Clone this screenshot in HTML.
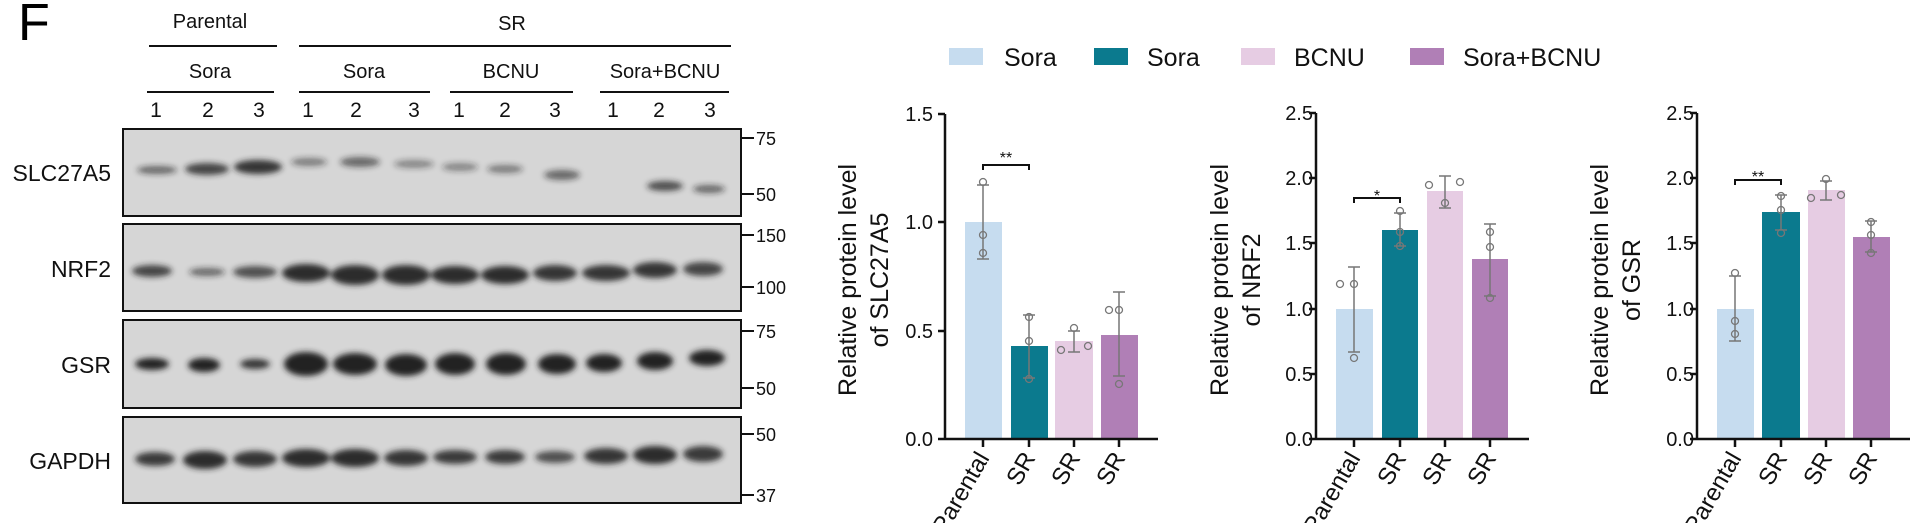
<!DOCTYPE html>
<html><head><meta charset="utf-8"><style>body{margin:0;background:#fff}svg{display:block}</style></head><body>
<svg width="1912" height="523" viewBox="0 0 1912 523" xmlns="http://www.w3.org/2000/svg" font-family="Liberation Sans, sans-serif">
<defs><filter id="b" x="-20%" y="-50%" width="140%" height="200%"><feGaussianBlur stdDeviation="3"/></filter></defs>
<rect width="1912" height="523" fill="#fff"/>
<text x="18" y="40" font-size="52">F</text>
<g font-size="20" text-anchor="middle" fill="#111">
<text x="210" y="28">Parental</text><text x="512" y="30">SR</text>
<text x="210" y="78">Sora</text><text x="364" y="78">Sora</text><text x="511" y="78">BCNU</text><text x="665" y="78">Sora+BCNU</text>
<g font-size="21"><text x="156" y="117">1</text><text x="208" y="117">2</text><text x="259" y="117">3</text><text x="308" y="117">1</text><text x="356" y="117">2</text><text x="414" y="117">3</text><text x="459" y="117">1</text><text x="505" y="117">2</text><text x="555" y="117">3</text><text x="613" y="117">1</text><text x="659" y="117">2</text><text x="710" y="117">3</text></g>
</g>
<g stroke="#111" stroke-width="2"><line x1="149" y1="46" x2="277" y2="46"/><line x1="299" y1="46" x2="731" y2="46"/>
<line x1="147" y1="92" x2="274" y2="92"/><line x1="299" y1="92" x2="430" y2="92"/><line x1="450" y1="92" x2="573" y2="92"/><line x1="600" y1="92" x2="729" y2="92"/></g>
<g font-size="23" text-anchor="end" fill="#111"><text x="111" y="181">SLC27A5</text><text x="111" y="277">NRF2</text><text x="111" y="373">GSR</text><text x="111" y="469">GAPDH</text></g>
<g fill="#d6d6d6" stroke="#111" stroke-width="2"><rect x="123" y="129" width="618" height="87"/><rect x="123" y="224" width="618" height="87"/><rect x="123" y="320" width="618" height="88"/><rect x="123" y="417" width="618" height="86"/></g>
<g filter="url(#b)" fill="#222">
<ellipse cx="157" cy="170" rx="20" ry="4" opacity=".6"/><ellipse cx="207" cy="169" rx="22" ry="6" opacity=".8"/><ellipse cx="258" cy="167" rx="24" ry="7" opacity=".9"/>
<ellipse cx="309" cy="162" rx="18" ry="4" opacity=".5"/><ellipse cx="360" cy="162" rx="20" ry="5" opacity=".6"/><ellipse cx="414" cy="164" rx="20" ry="4" opacity=".45"/>
<ellipse cx="460" cy="167" rx="18" ry="4" opacity=".45"/><ellipse cx="505" cy="169" rx="18" ry="4" opacity=".5"/><ellipse cx="562" cy="175" rx="18" ry="5" opacity=".6"/>
<ellipse cx="665" cy="186" rx="18" ry="5" opacity=".75"/><ellipse cx="709" cy="189" rx="16" ry="4" opacity=".6"/>
<ellipse cx="152" cy="271" rx="20" ry="6" opacity=".8"/><ellipse cx="207" cy="272" rx="18" ry="4" opacity=".6"/><ellipse cx="255" cy="272" rx="22" ry="6" opacity=".75"/>
<ellipse cx="306" cy="273" rx="24" ry="9" opacity=".95"/><ellipse cx="355" cy="275" rx="24" ry="10" opacity=".95"/><ellipse cx="406" cy="275" rx="24" ry="10" opacity=".95"/><ellipse cx="455" cy="275" rx="24" ry="9" opacity=".95"/><ellipse cx="505" cy="275" rx="24" ry="9" opacity=".95"/><ellipse cx="555" cy="273" rx="22" ry="8" opacity=".9"/><ellipse cx="606" cy="273" rx="24" ry="8" opacity=".9"/><ellipse cx="655" cy="270" rx="22" ry="8" opacity=".9"/><ellipse cx="703" cy="269" rx="20" ry="7" opacity=".8"/>
<ellipse cx="152" cy="364" rx="17" ry="6"/><ellipse cx="204" cy="365" rx="16" ry="7"/><ellipse cx="255" cy="364" rx="15" ry="5" opacity=".9"/>
<ellipse cx="306" cy="364" rx="22" ry="12"/><ellipse cx="355" cy="364" rx="22" ry="11"/><ellipse cx="406" cy="365" rx="21" ry="11"/><ellipse cx="455" cy="364" rx="20" ry="11"/><ellipse cx="506" cy="364" rx="20" ry="11"/><ellipse cx="557" cy="364" rx="19" ry="10"/><ellipse cx="604" cy="363" rx="18" ry="9"/><ellipse cx="655" cy="361" rx="18" ry="9"/><ellipse cx="707" cy="358" rx="18" ry="8"/>
<ellipse cx="155" cy="459" rx="20" ry="7" opacity=".85"/><ellipse cx="205" cy="460" rx="22" ry="9" opacity=".95"/><ellipse cx="255" cy="459" rx="22" ry="8" opacity=".9"/><ellipse cx="306" cy="458" rx="24" ry="9" opacity=".95"/><ellipse cx="355" cy="458" rx="24" ry="9" opacity=".95"/><ellipse cx="406" cy="458" rx="22" ry="8" opacity=".9"/><ellipse cx="455" cy="457" rx="22" ry="7" opacity=".85"/><ellipse cx="505" cy="457" rx="20" ry="7" opacity=".85"/><ellipse cx="555" cy="457" rx="20" ry="6" opacity=".75"/><ellipse cx="606" cy="456" rx="22" ry="8" opacity=".9"/><ellipse cx="655" cy="455" rx="22" ry="9" opacity=".95"/><ellipse cx="703" cy="454" rx="20" ry="8" opacity=".85"/>
</g>
<g stroke="#111" stroke-width="2"><line x1="741" y1="138" x2="754" y2="138"/><line x1="741" y1="194" x2="754" y2="194"/><line x1="741" y1="235" x2="754" y2="235"/><line x1="741" y1="287" x2="754" y2="287"/><line x1="741" y1="331" x2="754" y2="331"/><line x1="741" y1="388" x2="754" y2="388"/><line x1="741" y1="434" x2="754" y2="434"/><line x1="741" y1="495" x2="754" y2="495"/></g>
<g font-size="18" fill="#111"><text x="756" y="145">75</text><text x="756" y="201">50</text><text x="756" y="242">150</text><text x="756" y="294">100</text><text x="756" y="338">75</text><text x="756" y="395">50</text><text x="756" y="441">50</text><text x="756" y="502">37</text></g>
<rect x="949" y="48" width="34" height="17" fill="#c6dcef"/><rect x="1094" y="48" width="34" height="17" fill="#0b7a8e"/><rect x="1241" y="48" width="34" height="17" fill="#e6cce3"/><rect x="1410" y="48" width="34" height="17" fill="#b07fb6"/>
<g font-size="25" fill="#111"><text x="1004" y="66">Sora</text><text x="1147" y="66">Sora</text><text x="1294" y="66">BCNU</text><text x="1463" y="66">Sora+BCNU</text></g>
<g font-size="20" fill="#111" text-anchor="end"><text x="933" y="121">1.5</text><text x="933" y="229">1.0</text><text x="933" y="338">0.5</text><text x="933" y="446">0.0</text>
<text x="1313" y="120">2.5</text><text x="1313" y="185">2.0</text><text x="1313" y="250">1.5</text><text x="1313" y="316">1.0</text><text x="1313" y="381">0.5</text><text x="1313" y="446">0.0</text>
<text x="1694" y="120">2.5</text><text x="1694" y="185">2.0</text><text x="1694" y="250">1.5</text><text x="1694" y="316">1.0</text><text x="1694" y="381">0.5</text><text x="1694" y="446">0.0</text></g>
<g font-size="25" fill="#111" text-anchor="middle">
<text transform="translate(856,280) rotate(-90)">Relative protein level</text><text transform="translate(888,280) rotate(-90)">of SLC27A5</text>
<text transform="translate(1228,280) rotate(-90)">Relative protein level</text><text transform="translate(1260,280) rotate(-90)">of NRF2</text>
<text transform="translate(1608,280) rotate(-90)">Relative protein level</text><text transform="translate(1640,280) rotate(-90)">of GSR</text></g>
<g fill="#c6dcef"><rect x="965" y="222" width="37" height="217"/><rect x="1336" y="309" width="37" height="130"/><rect x="1717" y="309" width="37" height="130"/></g>
<g fill="#0b7a8e"><rect x="1011" y="346" width="37" height="93"/><rect x="1382" y="230" width="36" height="209"/><rect x="1762" y="212" width="38" height="227"/></g>
<g fill="#e6cce3"><rect x="1055" y="341" width="38" height="98"/><rect x="1427" y="191" width="36" height="248"/><rect x="1808" y="190" width="37" height="249"/></g>
<g fill="#b07fb6"><rect x="1101" y="335" width="37" height="104"/><rect x="1472" y="259" width="36" height="180"/><rect x="1853" y="237" width="37" height="202"/></g>
<g stroke="#777" stroke-width="1.5" fill="none">
<path d="M983 259V185M977 259h12M977 185h12M1029 378V315M1023 378h12M1023 315h12M1074 352V331M1068 352h12M1068 331h12M1119 376V292M1113 376h12M1113 292h12"/>
<path d="M1354 352V267M1348 352h12M1348 267h12M1400 246V213M1394 246h12M1394 213h12M1445 208V176M1439 208h12M1439 176h12M1490 296V224M1484 296h12M1484 224h12"/>
<path d="M1735 341V276M1729 341h12M1729 276h12M1781 230V195M1775 230h12M1775 195h12M1826 200V181M1820 200h12M1820 181h12M1871 252V221M1865 252h12M1865 221h12"/>
<g stroke-width="1.3"><circle cx="983" cy="182" r="3.5"/><circle cx="983" cy="235" r="3.5"/><circle cx="983" cy="253" r="3.5"/><circle cx="1029" cy="317" r="3.5"/><circle cx="1029" cy="341" r="3.5"/><circle cx="1029" cy="379" r="3.5"/><circle cx="1061" cy="350" r="3.5"/><circle cx="1074" cy="328" r="3.5"/><circle cx="1088" cy="346" r="3.5"/><circle cx="1109" cy="310" r="3.5"/><circle cx="1119" cy="310" r="3.5"/><circle cx="1119" cy="384" r="3.5"/>
<circle cx="1340" cy="284" r="3.5"/><circle cx="1354" cy="284" r="3.5"/><circle cx="1354" cy="358" r="3.5"/><circle cx="1400" cy="211" r="3.5"/><circle cx="1400" cy="232" r="3.5"/><circle cx="1400" cy="246" r="3.5"/><circle cx="1429" cy="185" r="3.5"/><circle cx="1445" cy="203" r="3.5"/><circle cx="1460" cy="182" r="3.5"/><circle cx="1490" cy="232" r="3.5"/><circle cx="1490" cy="247" r="3.5"/><circle cx="1490" cy="298" r="3.5"/>
<circle cx="1735" cy="273" r="3.5"/><circle cx="1735" cy="321" r="3.5"/><circle cx="1735" cy="334" r="3.5"/><circle cx="1781" cy="196" r="3.5"/><circle cx="1781" cy="210" r="3.5"/><circle cx="1781" cy="233" r="3.5"/><circle cx="1811" cy="198" r="3.5"/><circle cx="1826" cy="179" r="3.5"/><circle cx="1841" cy="195" r="3.5"/><circle cx="1871" cy="222" r="3.5"/><circle cx="1871" cy="235" r="3.5"/><circle cx="1871" cy="253" r="3.5"/></g>
</g>
<g stroke="#111" stroke-width="2.5" fill="none">
<path stroke-width="2" d="M983 170v-5h46v5M1354 203v-5h46v5M1735 185v-5h46v5"/>
<path d="M945 114V439H1158M938 114h7M938 222h7M938 331h7M938 439h7M983 439v8M1029 439v8M1074 439v8M1119 439v8"/>
<path d="M1316 113V439H1529M1309 113h7M1309 178h7M1309 243h7M1309 309h7M1309 374h7M1309 439h7M1354 439v8M1400 439v8M1445 439v8M1490 439v8"/>
<path d="M1697 113V439H1910M1690 113h7M1690 178h7M1690 243h7M1690 309h7M1690 374h7M1690 439h7M1735 439v8M1781 439v8M1826 439v8M1871 439v8"/>
</g>
<g font-size="16" fill="#111" text-anchor="middle"><text x="1006" y="163">**</text><text x="1377" y="201">*</text><text x="1758" y="182">**</text></g>
<g font-size="24" fill="#111" text-anchor="end">
<text transform="translate(990,458) rotate(-60)">Parental</text><text transform="translate(1036,458) rotate(-60)">SR</text><text transform="translate(1081,458) rotate(-60)">SR</text><text transform="translate(1126,458) rotate(-60)">SR</text>
<text transform="translate(1361,458) rotate(-60)">Parental</text><text transform="translate(1407,458) rotate(-60)">SR</text><text transform="translate(1452,458) rotate(-60)">SR</text><text transform="translate(1497,458) rotate(-60)">SR</text>
<text transform="translate(1742,458) rotate(-60)">Parental</text><text transform="translate(1788,458) rotate(-60)">SR</text><text transform="translate(1833,458) rotate(-60)">SR</text><text transform="translate(1878,458) rotate(-60)">SR</text>
</g>
</svg>
</body></html>
